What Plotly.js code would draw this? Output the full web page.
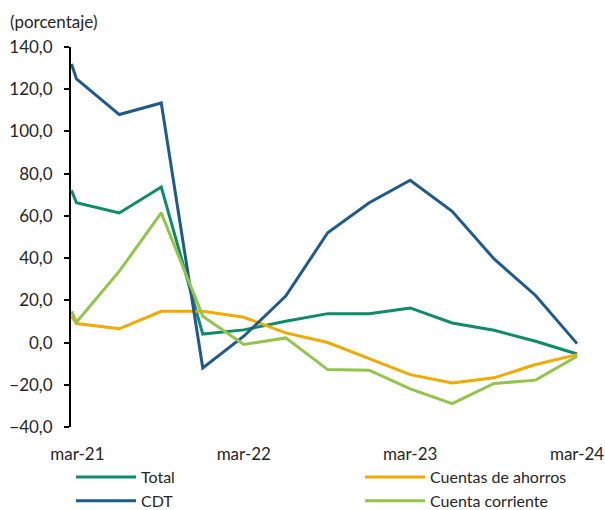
<!DOCTYPE html>
<html>
<head>
<meta charset="utf-8">
<script src="https://cdn.plot.ly/plotly-3.0.1.min.js"></script>
<style>
  html, body { margin: 0; padding: 0; background: #ffffff; }
  #chart { width: 605px; height: 510px; }
</style>
</head>
<body>
<div id="chart"></div>
<script>
// Dates of observations
const fechas = [
  "2021-03-02", "2021-03-13", "2021-06-15", "2021-09-15", "2021-12-15",
  "2022-03-15", "2022-06-15", "2022-09-15", "2022-12-15",
  "2023-03-15", "2023-06-15", "2023-09-15", "2023-12-15", "2024-03-15"
];

// Series (porcentaje)
const total      = [72.1, 66.2, 61.4, 73.7, 4.0, 6.0, 10.1, 13.7, 13.7, 16.4, 9.3, 5.8, 0.6, -5.4];
const ahorros    = [12.5, 9.0, 6.5, 14.8, 14.8, 12.0, 4.6, 0.0, -7.6, -15.2, -19.1, -16.7, -10.4, -5.7];
const cdt        = [132.0, 124.9, 108.0, 113.5, -12.0, 3.0, 22.0, 52.0, 66.2, 76.9, 62.2, 39.6, 22.3, -0.5];
const corriente  = [14.8, 9.6, 33.8, 61.4, 12.5, -0.9, 2.2, -12.8, -13.1, -21.9, -28.9, -19.4, -17.8, -6.5];

// Axis ticks
const yearTicks   = ["2021-03-01", "2022-03-01", "2023-03-01", "2024-03-01"];
const labelTicks  = ["2021-03-15", "2022-03-15", "2023-03-15", "2024-03-15"];
const tickLabels  = ["mar-21", "mar-22", "mar-23", "mar-24"];

const xRange = ["2021-03-01", "2024-03-28"];
const yMin = -40, yMax = 140;

const FONT = "Lato, 'Open Sans', sans-serif";
const TXT = "#262626";
const FS = 17;
const FS_LEG = 16;

const traces = [
  { name: "Total", x: fechas, y: total, mode: "lines", legend: "legend", line: { color: "#0E8B68", width: 3 } },
  { name: "Cuentas de ahorros", x: fechas, y: ahorros, mode: "lines", legend: "legend2", line: { color: "#F2A900", width: 3 } },
  { name: "CDT", x: fechas, y: cdt, mode: "lines", legend: "legend", line: { color: "#1F5A8C", width: 3 } },
  { name: "Cuenta corriente", x: fechas, y: corriente, mode: "lines", legend: "legend2", line: { color: "#93C54B", width: 3 } }
];

const legendBase = {
  orientation: "v",
  xanchor: "left", xref: "paper",
  y: -0.087, yanchor: "top",
  itemwidth: 60,
  tracegroupgap: 0,
  font: { family: FONT, size: FS_LEG, color: TXT },
  bgcolor: "rgba(0,0,0,0)"
};

const layout = {
  width: 605,
  height: 510,
  margin: { l: 71, r: 22, t: 47, b: 83, autoexpand: false },
  paper_bgcolor: "#ffffff",
  plot_bgcolor: "#ffffff",
  separators: ", ",
  font: { family: FONT, size: FS, color: TXT },
  showlegend: true,
  legend: Object.assign({}, legendBase, { x: 0.0 }),
  legend2: Object.assign({}, legendBase, { x: 0.5645 }),
  xaxis: {
    type: "date",
    range: xRange,
    showgrid: false,
    zeroline: false,
    showline: false,
    tickmode: "array",
    tickvals: labelTicks,
    ticktext: tickLabels,
    ticks: "outside",
    ticklen: 12,
    tickcolor: "rgba(0,0,0,0)",
    tickfont: { family: FONT, size: FS, color: TXT }
  },
  xaxis2: {
    type: "date",
    range: xRange,
    overlaying: "x",
    anchor: "free",
    position: (0 - yMin) / (yMax - yMin),
    showgrid: false,
    zeroline: false,
    showline: true,
    linecolor: "#000000",
    linewidth: 2,
    tickmode: "array",
    tickvals: yearTicks,
    ticks: "inside",
    ticklen: 5,
    tickwidth: 2,
    tickcolor: "#000000",
    showticklabels: false
  },
  yaxis: {
    range: [yMin, yMax],
    dtick: 20,
    tick0: 0,
    tickformat: ".1f",
    showgrid: false,
    zeroline: false,
    showline: true,
    linecolor: "#000000",
    linewidth: 2,
    ticks: "outside",
    ticklen: 5,
    tickwidth: 2,
    tickcolor: "#000000",
    ticklabelstandoff: 8,
    tickfont: { family: FONT, size: FS, color: TXT }
  },
  annotations: [
    {
      text: "(porcentaje)",
      xref: "paper", yref: "paper",
      x: -63 / 512, y: 1 + 26 / 380,
      xanchor: "left", yanchor: "middle",
      showarrow: false,
      font: { family: FONT, size: FS, color: TXT }
    }
  ]
};

Plotly.newPlot("chart", traces, layout, { displayModeBar: false, staticPlot: true });
</script>
</body>
</html>
